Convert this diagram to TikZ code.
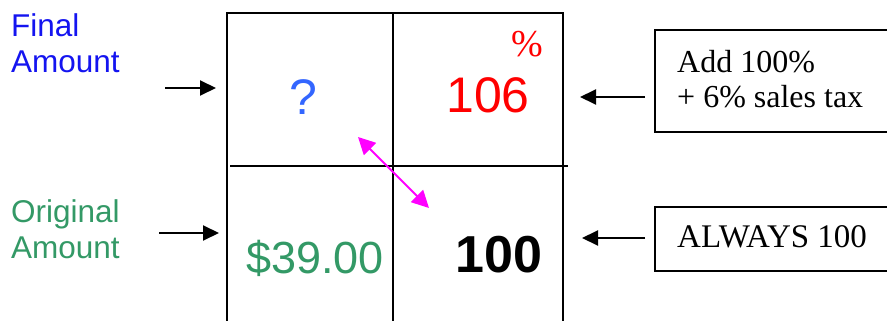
\documentclass[tikz,border=0pt]{standalone}
\usepackage{fontspec}
\setmainfont{Liberation Serif}
\newfontfamily\arialf{Liberation Sans}
\usetikzlibrary{arrows.meta}
\definecolor{labelblue}{RGB}{20,20,240}
\definecolor{qblue}{RGB}{51,102,255}
\definecolor{seagreen}{RGB}{51,153,102}
\definecolor{pctred}{RGB}{255,0,0}
\definecolor{mag}{RGB}{255,0,255}
\tikzset{
  gridline/.style={line width=2pt, black},
  ptr/.style={line width=2pt, -{Triangle[length=16pt,width=15pt]}},
  dbl/.style={line width=2pt, mag, {Triangle[length=17pt,width=17pt]}-{Triangle[length=17pt,width=17pt]}},
  sidelabel/.style={inner sep=0pt, anchor=base west, align=left, font=\arialf\fontsize{31.5}{36}\selectfont},
  infotext/.style={inner sep=0pt, anchor=base west, align=left, font=\fontsize{32}{35}\selectfont},
  cell/.style={inner sep=0pt, anchor=base}
}
\begin{document}
\begin{tikzpicture}[x=1pt,y=-1pt]
\useasboundingbox (0,0) rectangle (887,321);
\clip (0,0) rectangle (887,321);
% grid
\draw[gridline] (227,340) -- (227,13) -- (563,13) -- (563,340);
\draw[gridline] (393,13) -- (393,340);
\draw[gridline] (230,166) -- (568,166);
% side labels (base anchor = last line)
\node[sidelabel, text=labelblue] (final) at (11,73) {Final\\Amount};
\node[sidelabel, text=seagreen] (orig) at (11,258) {Original\\Amount};
% cell texts
\node[cell, text=qblue, font=\arialf\fontsize{50}{50}\selectfont] (q) at (303,114) {?};
\node[cell, text=pctred, font=\arialf\fontsize{50}{50}\selectfont] (v106) at (488,113) {106};
\node[cell, text=pctred, font=\fontsize{38}{38}\selectfont] (pct) at (527,57) {\%};
\node[cell, text=seagreen, font=\arialf\fontsize{45}{45}\selectfont] (v39) at (315,273) {\$39.00};
\node[cell, text=black, font=\arialf\bfseries\fontsize{52}{52}\selectfont] (v100) at (499,272) {100};
% info boxes
\draw[line width=2pt] (900,30) -- (655,30) -- (655,132) -- (900,132);
\draw[line width=2pt] (900,207) -- (655,207) -- (655,271) -- (900,271);
\node[infotext] (add) at (677,107) {Add 100\%\\+ 6\% sales tax};
\node[infotext, font=\fontsize{33}{35}\selectfont] (always) at (677,247) {ALWAYS 100};
% arrows
\coordinate (a1s) at (165,88); \coordinate (a1e) at (216,88);
\coordinate (a2s) at (159,233); \coordinate (a2e) at (219,233);
\coordinate (b1s) at (645,97); \coordinate (b1e) at (580,97);
\coordinate (b2s) at (645,238); \coordinate (b2e) at (582,238);
\draw[ptr] (a1s) -- (a1e);
\draw[ptr] (a2s) -- (a2e);
\draw[ptr] (b1s) -- (b1e);
\draw[ptr] (b2s) -- (b2e);
\coordinate (m1) at (358,137); \coordinate (m2) at (429,208);
\draw[dbl] (m1) -- (m2);
\end{tikzpicture}
\end{document}
